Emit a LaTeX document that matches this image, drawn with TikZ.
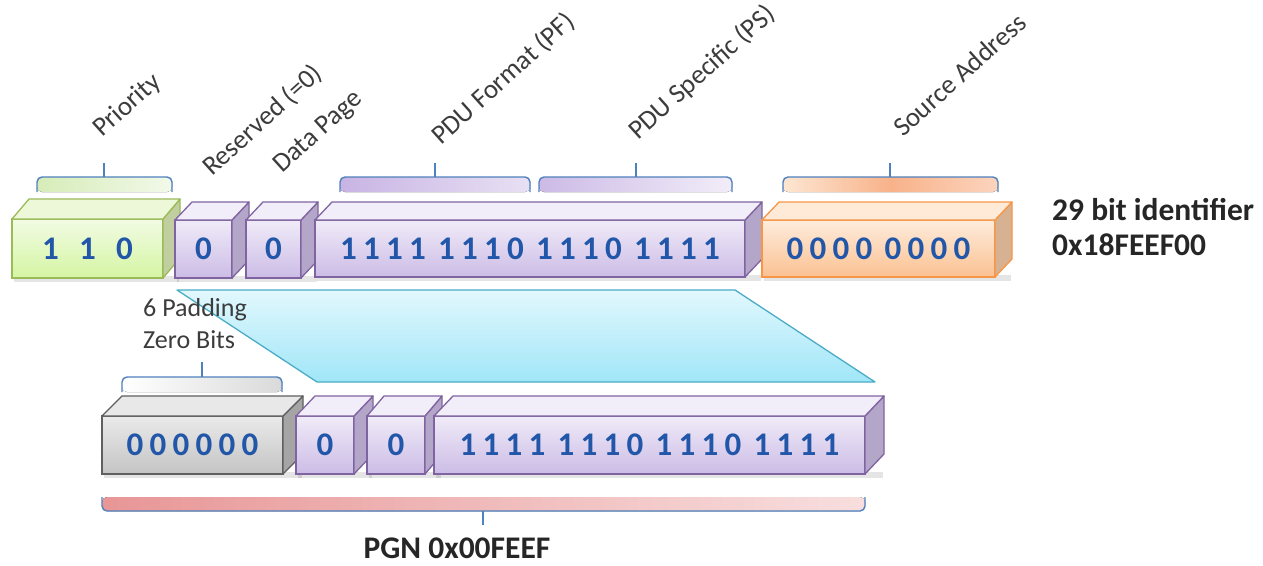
\documentclass[tikz,border=0pt]{standalone}
\usepackage{fontspec}
\setmainfont{Carlito}
\usetikzlibrary{calc}
\definecolor{grnB}{RGB}{155,187,89}
\definecolor{grnT}{RGB}{242,251,228}
\definecolor{grnD}{RGB}{212,245,162}
\definecolor{grnTop}{RGB}{236,248,216}
\definecolor{grnSide}{RGB}{192,206,160}
\definecolor{purB}{RGB}{128,100,162}
\definecolor{purT}{RGB}{240,235,248}
\definecolor{purD}{RGB}{204,188,230}
\definecolor{purTop}{RGB}{241,237,249}
\definecolor{purSide}{RGB}{180,166,200}
\definecolor{orB}{RGB}{247,150,70}
\definecolor{orT}{RGB}{254,236,220}
\definecolor{orD}{RGB}{251,193,146}
\definecolor{orTop}{RGB}{254,234,214}
\definecolor{orSide}{RGB}{214,178,146}
\definecolor{gyB}{RGB}{95,95,95}
\definecolor{gyT}{RGB}{234,234,234}
\definecolor{gyD}{RGB}{196,196,196}
\definecolor{gyTop}{RGB}{232,232,232}
\definecolor{gySide}{RGB}{165,165,165}
\definecolor{cyB}{RGB}{75,172,198}
\definecolor{cyT}{RGB}{226,248,253}
\definecolor{cyD}{RGB}{160,230,248}
\definecolor{brB}{RGB}{79,129,189}
\definecolor{digitblue}{RGB}{34,86,168}
\definecolor{lblgray}{RGB}{60,60,60}
\newcommand\dg[1]{\makebox[23pt]{#1}}
\newcommand\nib[4]{\dg{#1}\dg{#2}\dg{#3}\dg{#4}}
\newcommand\gsp{\hspace{6pt}}
\newcommand\digfont{\fontsize{33}{33}\selectfont\bfseries}
\newcommand\mycube[9]{%
  \fill[black,opacity=0.10] ({#2+2},{#5-2}) rectangle ({#3+#6-1},{#5+4});
  \node[#8front, minimum width={#3-#2}, minimum height={#5-#4}] (#1) at ({(#2+#3)/2},{(#4+#5)/2}) {#9};
  \filldraw[#8side] (#1.north east) -- ++(#6,-#7) -- ($(#1.south east)+(#6,-#7)$) -- (#1.south east) -- cycle;
  \filldraw[#8topface] (#1.north west) -- ++(#6,-#7) -- ($(#1.north east)+(#6,-#7)$) -- (#1.north east) -- cycle;
}
\newcommand\tbrace[7]{%
  \fill[#7, rounded corners=5pt] (#1,#4) -- (#1,#3) -- (#2,#3) -- (#2,#4) -- cycle;
  \draw[bracel, rounded corners=5pt] (#1,#4) -- (#1,#3) -- (#2,#3) -- (#2,#4);
  \draw[bracel] (#5,#3) -- (#5,#6);
}
\tikzset{
  cubefront/.style={draw, line width=1.3pt, inner sep=0pt, outer sep=0pt, font=\digfont, text=digitblue},
  gfront/.style={cubefront, draw=grnB, top color=grnT, bottom color=grnD},
  gside/.style={draw=grnB, fill=grnSide, line width=1.3pt, line join=round},
  gtopface/.style={draw=grnB, fill=grnTop, line width=1.3pt, line join=round},
  pfront/.style={cubefront, draw=purB, top color=purT, bottom color=purD},
  pside/.style={draw=purB, fill=purSide, line width=1.3pt, line join=round},
  ptopface/.style={draw=purB, fill=purTop, line width=1.3pt, line join=round},
  ofront/.style={cubefront, draw=orB, top color=orT, bottom color=orD},
  oside/.style={draw=orB, fill=orSide, line width=1.3pt, line join=round},
  otopface/.style={draw=orB, fill=orTop, line width=1.3pt, line join=round},
  kfront/.style={cubefront, draw=gyB, top color=gyT, bottom color=gyD},
  kside/.style={draw=gyB, fill=gySide, line width=1.3pt, line join=round},
  ktopface/.style={draw=gyB, fill=gyTop, line width=1.3pt, line join=round},
  bracel/.style={draw=brB, line width=1.4pt},
  lbl/.style={inner sep=0pt, text=lblgray, font=\fontsize{27}{27}\selectfont, rotate=42, anchor=base west},
  plaintext/.style={inner sep=0pt, text=lblgray, font=\fontsize{26}{26}\selectfont, anchor=base west},
  boldtext/.style={inner sep=0pt, text=black!85, font=\fontsize{31.5}{31.5}\selectfont\bfseries},
}
\begin{document}
\begin{tikzpicture}[x=1pt,y=-1pt]
\useasboundingbox[fill=white] (0,0) rectangle (1263,565);

% mapping band
\draw[cyB, line width=1.3pt, top color=cyT, bottom color=cyD, line join=round]
  (177,290) -- (735,290) -- (875,382) -- (317,382) -- cycle;

% top braces
\tbrace{37}{172}{177}{192}{104}{163}{left color={rgb,255:red,214;green,236;blue,184}, right color={rgb,255:red,242;green,249;blue,233}}
\tbrace{340}{530}{177}{192}{435}{163}{left color={rgb,255:red,200;green,180;blue,228}, right color={rgb,255:red,232;green,224;blue,243}}
\tbrace{539}{732}{177}{192}{636}{163}{left color={rgb,255:red,204;green,186;blue,230}, right color={rgb,255:red,242;green,237;blue,249}}
\tbrace{783}{998}{177}{192}{890}{163}{left color={rgb,255:red,253;green,230;blue,210}, right color={rgb,255:red,252;green,212;blue,190}, middle color={rgb,255:red,248;green,178;blue,138}}
% padding brace
\tbrace{122}{282}{377}{392}{202}{362}{left color=white, right color={rgb,255:red,218;green,218;blue,218}}
% bottom PGN band
\tbrace{102}{865}{511}{497}{483}{525}{left color={rgb,255:red,232;green,150;blue,150}, right color={rgb,255:red,248;green,222;blue,222}}

% top row
\mycube{pri}{12}{163}{219}{278}{17}{20}{g}{\dg1\hspace{14pt}\dg1\hspace{14pt}\dg0}
\mycube{res}{175}{232}{220}{278}{17}{18}{p}{0}
\mycube{dp}{246}{301}{220}{278}{17}{18}{p}{0}
\mycube{pdu}{315}{745}{220}{277}{17}{18}{p}{\nib1111\gsp\nib1110\gsp\nib1110\gsp\nib1111}
\mycube{sa}{762}{995}{220}{277}{17}{18}{o}{\nib0000\gsp\nib0000}

% bottom row
\mycube{pad}{102}{283}{416}{474}{20}{20}{k}{\dg0\dg0\dg0\dg0\dg0\dg0}
\mycube{res2}{296}{354}{416}{474}{19}{20}{p}{0}
\mycube{dp2}{367}{425}{416}{474}{17}{20}{p}{0}
\mycube{pgnb}{434}{865}{416}{474}{19}{20}{p}{\nib1111\gsp\nib1110\gsp\nib1110\gsp\nib1111}

% rotated field labels
\node[lbl] (lpri) at (102,138) {Priority};
\node[lbl] (lres) at (212,177) {Reserved (=0)};
\node[lbl] (ldp) at (282,174) {Data Page};
\node[lbl] (lpf) at (441,146) {PDU Format (PF)};
\node[lbl] (lps) at (638,141) {PDU Specific (PS)};
\node[lbl] (lsa) at (903,138) {Source Address};

% other texts
\node[plaintext] (pad1) at (143,316) {6 Padding};
\node[plaintext] (pad2) at (143,348) {Zero Bits};
\node[boldtext, anchor=base west] (id1) at (1052,220) {29 bit identifier};
\node[boldtext, anchor=base west] (id2) at (1052,255) {0x18FEEF00};
\node[boldtext, anchor=base] (pgn) at (457,558) {PGN 0x00FEEF};
\end{tikzpicture}
\end{document}
